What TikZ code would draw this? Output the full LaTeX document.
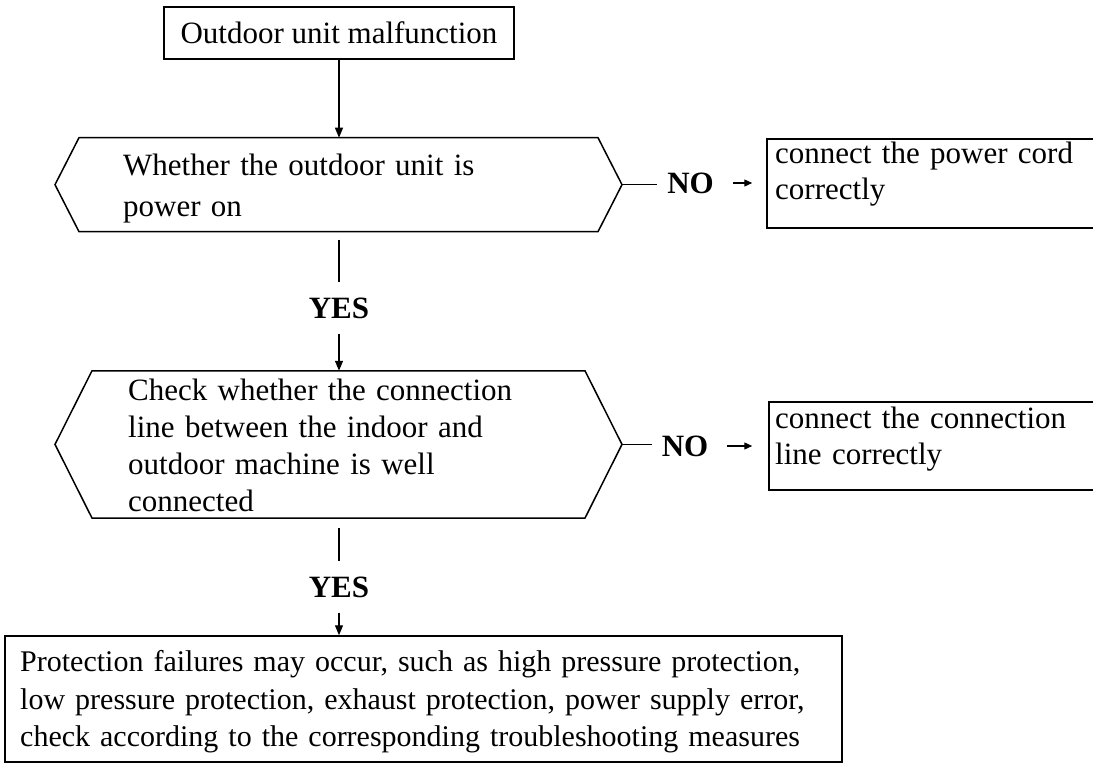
\documentclass[tikz,border=0pt]{standalone}
\usepackage{fontspec}
\setmainfont{Liberation Serif}
\usetikzlibrary{arrows.meta}

\tikzset{
  frame/.style={draw, line width=1.5pt, inner sep=0pt},
  hexshape/.style={inner sep=0pt, outer sep=0pt},
  hexline/.style={line width=1.5pt, line join=miter},
  words/.style={anchor=base west, inner sep=0pt, align=left, text width=1000pt},
  answer/.style={font=\fontsize{31}{36}\selectfont\bfseries, inner xsep=10pt, inner ysep=15pt},
  flow/.style={line width=1.3pt, -{Triangle[length=10pt,width=8pt]}},
  plain/.style={line width=1.3pt},
  side/.style={line width=1.3pt, -{Triangle[length=8pt,width=7pt]}}
}

\begin{document}
\begin{tikzpicture}[x=1pt, y=-1pt, font=\fontsize{31}{36}\selectfont]
\useasboundingbox (0,0) rectangle (1093,765);

\node[frame, minimum width=350, minimum height=52] (start) at (339,33) {Outdoor unit malfunction};

% first question
\node[hexshape, minimum width=567, minimum height=94] (q1) at (338.5,184.7) {};
\draw[hexline] (q1.west) -- ([xshift=24]q1.north west) -- ([xshift=-24]q1.north east)
  -- (q1.east) -- ([xshift=-24]q1.south east) -- ([xshift=24]q1.south west) -- cycle;
\node[words, font=\fontsize{31}{40}\selectfont] (q1t) at (123,176) {Whether the outdoor unit is\\power on};

\node[answer] (no1) at (690.5,183) {NO};
\node[frame, minimum width=343, minimum height=88.7] (fix1) at (938.5,183.6) {};
\node[words] (fix1t) at (775,164) {connect the power cord\\correctly};

\node[answer] (yes1) at (339,308) {YES};

% second question
\node[hexshape, minimum width=567, minimum height=147.3] (q2) at (338.5,444.4) {};
\draw[hexline] (q2.west) -- ([xshift=37]q2.north west) -- ([xshift=-37]q2.north east)
  -- (q2.east) -- ([xshift=-37]q2.south east) -- ([xshift=37]q2.south west) -- cycle;
\node[words, font=\fontsize{31}{37}\selectfont] (q2t) at (128,400) {Check whether the connection\\line between the indoor and\\outdoor machine is well\\connected};

\node[answer] (no2) at (685,446) {NO};
\node[frame, minimum width=341, minimum height=88.3] (fix2) at (939.5,445.9) {};
\node[words] (fix2t) at (775,428) {connect the connection\\line correctly};

\node[answer] (yes2) at (339,587) {YES};

\node[frame, minimum width=837, minimum height=126] (final) at (423.5,699) {};
\node[words, font=\fontsize{30}{37.5}\selectfont] (finalt) at (20,671.7) {Protection failures may occur, such as high pressure protection,\\low pressure protection, exhaust protection, power supply error,\\check according to the corresponding troubleshooting measures};

% connectors
\draw[flow] (start.south) -- (start.south |- q1.north);
\draw[plain, shorten <=8pt] (yes1.north |- q1.south) -- (yes1.north);
\draw[flow] (yes1.south) -- (yes1.south |- q2.north);
\draw[plain, shorten <=10pt] (yes2.north |- q2.south) -- (yes2.north);
\draw[flow] (yes2.south) -- (yes2.south |- final.north);

\draw[plain] (q1.east) -- (q1.east -| no1.west);
\draw[side, shorten <=9pt, shorten >=14pt] (no1.east) -- (no1.east -| fix1.west);
\draw[plain] (q2.east) -- (q2.east -| no2.west);
\draw[side, shorten <=9pt, shorten >=16pt] (no2.east) -- (no2.east -| fix2.west);
\end{tikzpicture}
\end{document}
